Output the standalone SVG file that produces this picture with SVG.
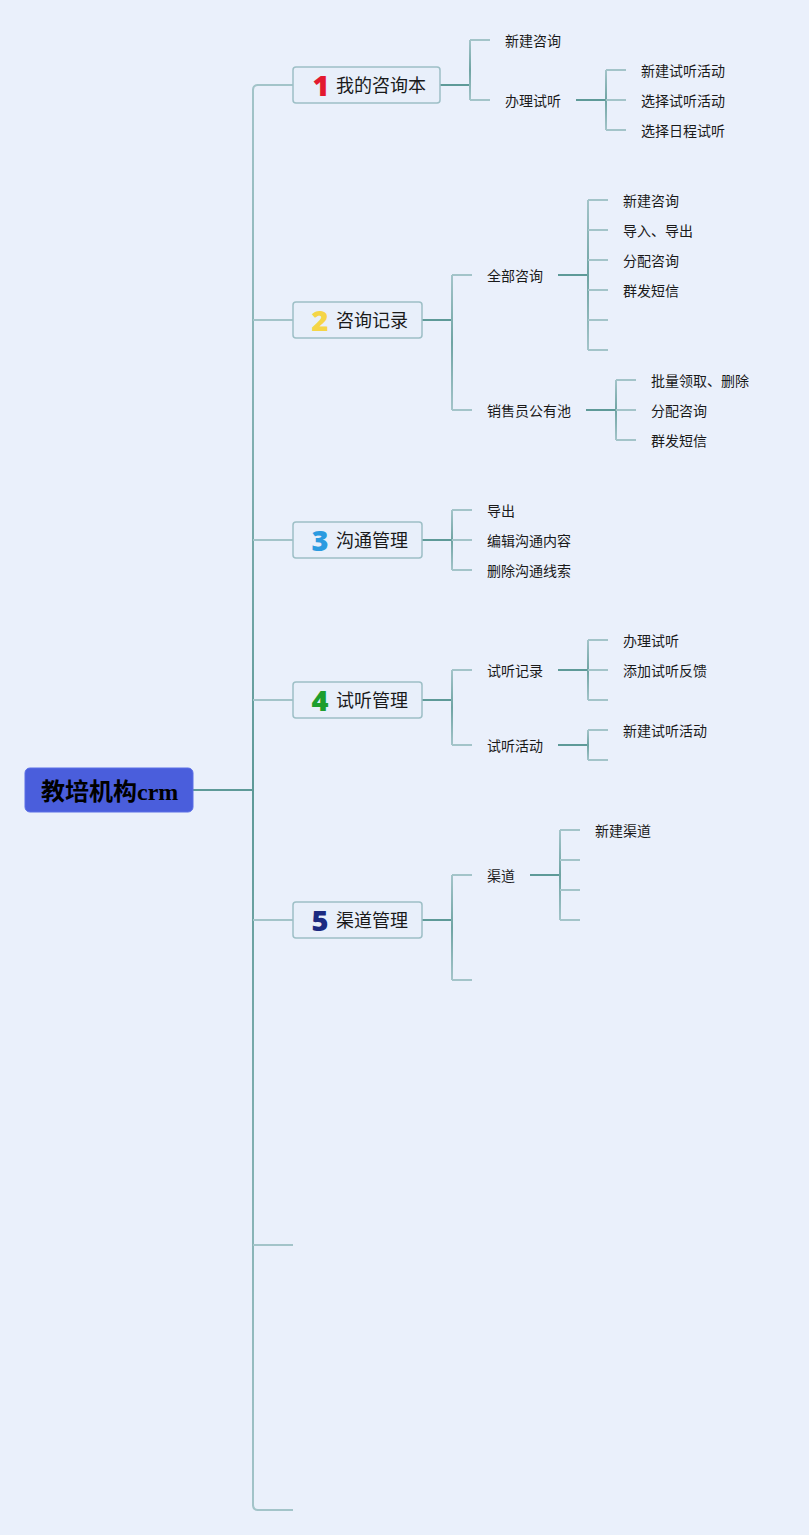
<svg xmlns="http://www.w3.org/2000/svg" width="809" height="1535" viewBox="0 0 809 1535">
<defs>
<linearGradient id="gt" gradientUnits="userSpaceOnUse" x1="0" y1="85" x2="0" y2="1510">
<stop offset="0" stop-color="#A3C4C9"/><stop offset="0.495" stop-color="#5E9A98"/><stop offset="1" stop-color="#A3C4C9"/>
</linearGradient>
<linearGradient id="gv" x1="0" y1="0" x2="0" y2="1">
<stop offset="0" stop-color="#A3C4C9"/><stop offset="0.5" stop-color="#6FA4A3"/><stop offset="1" stop-color="#A3C4C9"/>
</linearGradient>
<style>
.stem{stroke:#5E9A98;stroke-width:2;fill:none}
.br{stroke:#A3C4C9;stroke-width:2;fill:none}
.v{fill:url(#gv)}
.box{fill:#E8EFFA;stroke:#9DBFC6;stroke-width:1.5}
.tt{font-family:"Noto Sans CJK SC","Noto Sans",sans-serif;font-size:18px;fill:#1a1a1a}
.num{font-family:"Open Sans","Noto Sans",sans-serif;font-size:29px;font-weight:800}
.t{font-family:"Noto Sans CJK SC","Noto Sans",sans-serif;font-size:14px;fill:#1a1a1a}
</style>
</defs>
<rect width="809" height="1535" fill="#EAF0FB"/>
<g id="connectors">
<line class="stem" x1="193" y1="790" x2="253" y2="790"/>
<path d="M253 90 Q253 85 258 85 M253 1505 Q253 1510 258 1510" stroke="#A3C4C9" stroke-width="2" fill="none"/>
<rect x="252" y="89" width="2" height="1417" fill="url(#gt)"/>
<g class="br">
<line x1="257" y1="85" x2="293" y2="85"/>
<line x1="253" y1="320" x2="293" y2="320"/>
<line x1="253" y1="540" x2="293" y2="540"/>
<line x1="253" y1="700" x2="293" y2="700"/>
<line x1="253" y1="920" x2="293" y2="920"/>
<line x1="253" y1="1245" x2="293" y2="1245"/>
<line x1="257" y1="1510" x2="293" y2="1510"/>
</g>
<!-- topic 1 -->
<line class="stem" x1="440" y1="85" x2="470" y2="85"/>
<rect class="v" x="469" y="40" width="2" height="60"/>
<line class="br" x1="470" y1="40" x2="490" y2="40"/>
<line class="br" x1="470" y1="100" x2="490" y2="100"/>
<line class="stem" x1="576" y1="100" x2="606" y2="100"/>
<rect class="v" x="605" y="70" width="2" height="60"/>
<line class="br" x1="606" y1="70" x2="626" y2="70"/>
<line class="br" x1="606" y1="100" x2="626" y2="100"/>
<line class="br" x1="606" y1="130" x2="626" y2="130"/>
<!-- topic 2 -->
<line class="stem" x1="422" y1="320" x2="452" y2="320"/>
<rect class="v" x="451" y="275" width="2" height="135"/>
<line class="br" x1="452" y1="275" x2="472" y2="275"/>
<line class="br" x1="452" y1="410" x2="472" y2="410"/>
<line class="stem" x1="558" y1="275" x2="588" y2="275"/>
<rect class="v" x="587" y="200" width="2" height="150"/>
<line class="br" x1="588" y1="200" x2="608" y2="200"/>
<line class="br" x1="588" y1="230" x2="608" y2="230"/>
<line class="br" x1="588" y1="260" x2="608" y2="260"/>
<line class="br" x1="588" y1="290" x2="608" y2="290"/>
<line class="br" x1="588" y1="320" x2="608" y2="320"/>
<line class="br" x1="588" y1="350" x2="608" y2="350"/>
<line class="stem" x1="586" y1="410" x2="616" y2="410"/>
<rect class="v" x="615" y="380" width="2" height="60"/>
<line class="br" x1="616" y1="380" x2="636" y2="380"/>
<line class="br" x1="616" y1="410" x2="636" y2="410"/>
<line class="br" x1="616" y1="440" x2="636" y2="440"/>
<!-- topic 3 -->
<line class="stem" x1="422" y1="540" x2="452" y2="540"/>
<rect class="v" x="451" y="510" width="2" height="60"/>
<line class="br" x1="452" y1="510" x2="472" y2="510"/>
<line class="br" x1="452" y1="540" x2="472" y2="540"/>
<line class="br" x1="452" y1="570" x2="472" y2="570"/>
<!-- topic 4 -->
<line class="stem" x1="422" y1="700" x2="452" y2="700"/>
<rect class="v" x="451" y="670" width="2" height="75"/>
<line class="br" x1="452" y1="670" x2="472" y2="670"/>
<line class="br" x1="452" y1="745" x2="472" y2="745"/>
<line class="stem" x1="558" y1="670" x2="588" y2="670"/>
<rect class="v" x="587" y="640" width="2" height="60"/>
<line class="br" x1="588" y1="640" x2="608" y2="640"/>
<line class="br" x1="588" y1="670" x2="608" y2="670"/>
<line class="br" x1="588" y1="700" x2="608" y2="700"/>
<line class="stem" x1="558" y1="745" x2="588" y2="745"/>
<rect class="v" x="587" y="730" width="2" height="30"/>
<line class="br" x1="588" y1="730" x2="608" y2="730"/>
<line class="br" x1="588" y1="760" x2="608" y2="760"/>
<!-- topic 5 -->
<line class="stem" x1="422" y1="920" x2="452" y2="920"/>
<rect class="v" x="451" y="875" width="2" height="105"/>
<line class="br" x1="452" y1="875" x2="472" y2="875"/>
<line class="br" x1="452" y1="980" x2="472" y2="980"/>
<line class="stem" x1="530" y1="875" x2="560" y2="875"/>
<rect class="v" x="559" y="830" width="2" height="90"/>
<line class="br" x1="560" y1="830" x2="580" y2="830"/>
<line class="br" x1="560" y1="860" x2="580" y2="860"/>
<line class="br" x1="560" y1="890" x2="580" y2="890"/>
<line class="br" x1="560" y1="920" x2="580" y2="920"/>
</g>
<g id="root">
<rect x="25" y="768" width="168" height="44" rx="5" fill="#4A5EDC" stroke="#5A6EE6" stroke-width="1"/>
<text x="41" y="800" font-family="'Noto Sans CJK SC','Noto Sans',sans-serif" font-size="24" font-weight="bold" fill="#000">教培机构<tspan font-family="'Liberation Serif',serif">crm</tspan></text>
</g>
<g id="topic1">
<rect class="box" x="293" y="67" width="147" height="36" rx="3"/>
<text class="num" x="321" y="96" text-anchor="middle" fill="#E3192F">1</text>
<text class="tt" x="336" y="92">我的咨询本</text>
</g>
<g id="topic2">
<rect class="box" x="293" y="302" width="129" height="36" rx="3"/>
<text class="num" x="320" y="331" text-anchor="middle" fill="#F5D547">2</text>
<text class="tt" x="336" y="327">咨询记录</text>
</g>
<g id="topic3">
<rect class="box" x="293" y="522" width="129" height="36" rx="3"/>
<text class="num" x="320" y="551" text-anchor="middle" fill="#2B9BE0">3</text>
<text class="tt" x="336" y="547">沟通管理</text>
</g>
<g id="topic4">
<rect class="box" x="293" y="682" width="129" height="36" rx="3"/>
<text class="num" x="320" y="711" text-anchor="middle" fill="#1E9E2E">4</text>
<text class="tt" x="336" y="707">试听管理</text>
</g>
<g id="topic5">
<rect class="box" x="293" y="902" width="129" height="36" rx="3"/>
<text class="num" x="320" y="931" text-anchor="middle" fill="#1B2A80">5</text>
<text class="tt" x="336" y="927">渠道管理</text>
</g>
<g id="n1a"><text class="t" x="505" y="46">新建咨询</text></g>
<g id="n1b"><text class="t" x="505" y="106">办理试听</text></g>
<g id="n1b1"><text class="t" x="641" y="76">新建试听活动</text></g>
<g id="n1b2"><text class="t" x="641" y="106">选择试听活动</text></g>
<g id="n1b3"><text class="t" x="641" y="136">选择日程试听</text></g>
<g id="n2a"><text class="t" x="487" y="281">全部咨询</text></g>
<g id="n2a1"><text class="t" x="623" y="206">新建咨询</text></g>
<g id="n2a2"><text class="t" x="623" y="236">导入、导出</text></g>
<g id="n2a3"><text class="t" x="623" y="266">分配咨询</text></g>
<g id="n2a4"><text class="t" x="623" y="296">群发短信</text></g>
<g id="n2b"><text class="t" x="487" y="416">销售员公有池</text></g>
<g id="n2b1"><text class="t" x="651" y="386">批量领取、删除</text></g>
<g id="n2b2"><text class="t" x="651" y="416">分配咨询</text></g>
<g id="n2b3"><text class="t" x="651" y="446">群发短信</text></g>
<g id="n3a"><text class="t" x="487" y="516">导出</text></g>
<g id="n3b"><text class="t" x="487" y="546">编辑沟通内容</text></g>
<g id="n3c"><text class="t" x="487" y="576">删除沟通线索</text></g>
<g id="n4a"><text class="t" x="487" y="676">试听记录</text></g>
<g id="n4a1"><text class="t" x="623" y="646">办理试听</text></g>
<g id="n4a2"><text class="t" x="623" y="676">添加试听反馈</text></g>
<g id="n4b"><text class="t" x="487" y="751">试听活动</text></g>
<g id="n4b1"><text class="t" x="623" y="736">新建试听活动</text></g>
<g id="n5a"><text class="t" x="487" y="881">渠道</text></g>
<g id="n5a1"><text class="t" x="595" y="836">新建渠道</text></g>
</svg>
